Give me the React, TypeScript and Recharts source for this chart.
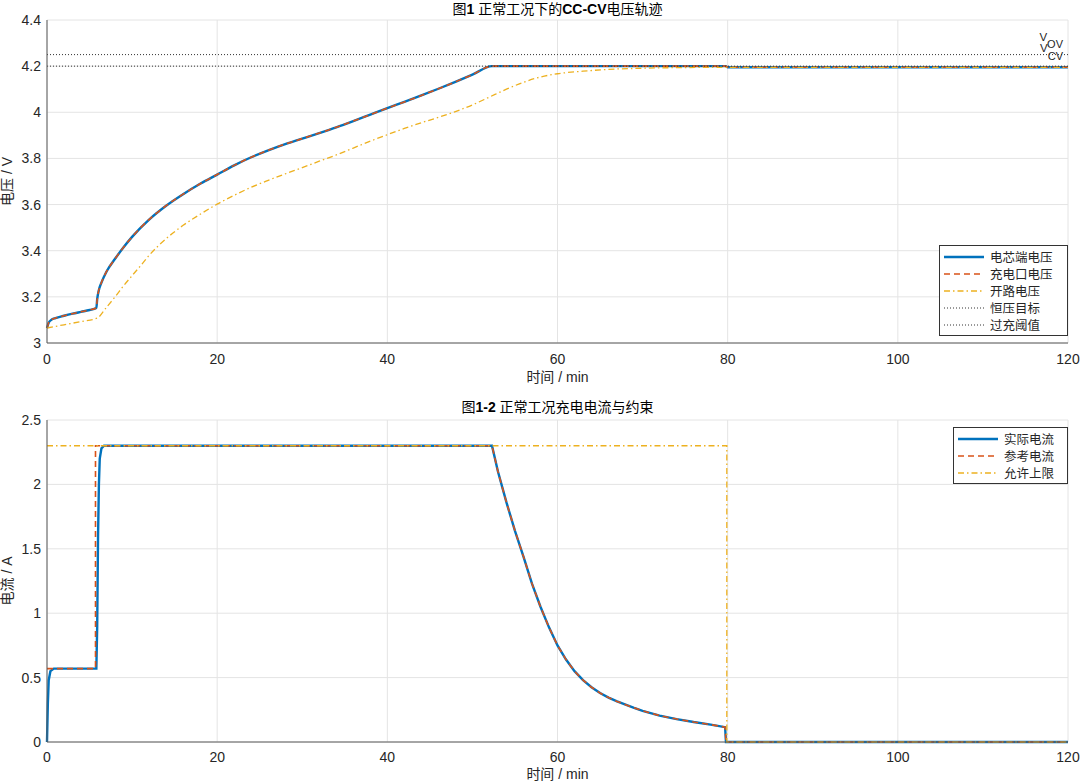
import { CartesianGrid, Label, Line, LineChart, ReferenceLine, XAxis, YAxis } from 'recharts'

const FONT = '"Liberation Sans", Arial, "Noto Sans CJK SC", sans-serif'

const xTicks = [0, 20, 40, 60, 80, 100, 120]
const vTicks = [3, 3.2, 3.4, 3.6, 3.8, 4, 4.2, 4.4]
const iTicks = [0, 0.5, 1, 1.5, 2, 2.5]

// voltage (top)
const vTime = [0, 0.2, 0.5, 1, 2, 3, 4, 5, 5.8, 5.9, 6.1, 6.4, 7, 8, 9, 10, 12, 14, 16, 18, 20, 22, 24, 26, 28, 30, 32, 34, 36, 38, 40, 42, 44, 46, 48, 50, 52.3, 60, 70, 79.8, 80, 90, 100, 110, 120]
const cellV = [3.065, 3.088, 3.1, 3.108, 3.118, 3.127, 3.135, 3.143, 3.152, 3.19, 3.23, 3.262, 3.31, 3.365, 3.415, 3.46, 3.535, 3.595, 3.645, 3.69, 3.73, 3.77, 3.805, 3.835, 3.862, 3.886, 3.91, 3.935, 3.962, 3.99, 4.018, 4.045, 4.073, 4.102, 4.132, 4.163, 4.2, 4.2, 4.2, 4.2, 4.195, 4.195, 4.195, 4.195, 4.195]
const portV = [3.065, 3.088, 3.1, 3.108, 3.118, 3.127, 3.135, 3.143, 3.152, 3.19, 3.23, 3.262, 3.31, 3.365, 3.415, 3.46, 3.535, 3.595, 3.645, 3.69, 3.73, 3.77, 3.805, 3.835, 3.862, 3.886, 3.91, 3.935, 3.962, 3.99, 4.018, 4.045, 4.073, 4.102, 4.132, 4.163, 4.2, 4.2, 4.2, 4.2, 4.195, 4.195, 4.195, 4.195, 4.195]
const ocvTime = [0, 2, 4, 5.9, 7, 8, 9, 10, 11, 12, 14, 16, 18, 20, 22, 24, 26, 28, 30, 32, 34, 36, 38, 40, 42, 44, 46, 48, 50, 52, 54, 56, 58, 60, 63, 66, 70, 75, 80, 120]
const ocvV = [3.065, 3.079, 3.093, 3.108, 3.155, 3.2, 3.248, 3.292, 3.335, 3.38, 3.452, 3.51, 3.558, 3.602, 3.64, 3.675, 3.705, 3.733, 3.76, 3.788, 3.815, 3.845, 3.875, 3.903, 3.93, 3.955, 3.978, 4.003, 4.032, 4.066, 4.1, 4.13, 4.153, 4.167, 4.178, 4.186, 4.191, 4.194, 4.195, 4.195]
const V_CV = 4.2
const V_OV = 4.25

// current (bottom)
const iTime = [0, 0.1, 0.2, 0.4, 0.8, 5.8, 5.9, 6.0, 6.1, 6.2, 6.4, 6.7, 52.3, 53, 54, 55, 56, 57, 58, 59, 60, 61, 62, 63, 64, 65, 66, 67, 68, 69, 70, 72, 74, 76, 78, 79.7, 79.8, 120]
const iMeas = [0, 0.3, 0.48, 0.55, 0.57, 0.57, 0.9, 1.6, 2.0, 2.2, 2.28, 2.3, 2.3, 2.1, 1.86, 1.64, 1.44, 1.23, 1.05, 0.89, 0.75, 0.64, 0.55, 0.48, 0.425, 0.38, 0.345, 0.315, 0.29, 0.265, 0.242, 0.205, 0.178, 0.155, 0.135, 0.115, 0, 0]
const iRefTime = [0, 5.7, 5.7, 52.3, 53, 54, 55, 56, 57, 58, 59, 60, 61, 62, 63, 64, 65, 66, 67, 68, 69, 70, 72, 74, 76, 78, 79.7, 79.8, 120]
const iRef = [0.57, 0.57, 2.3, 2.3, 2.1, 1.86, 1.64, 1.44, 1.23, 1.05, 0.89, 0.75, 0.64, 0.55, 0.48, 0.425, 0.38, 0.345, 0.315, 0.29, 0.265, 0.242, 0.205, 0.178, 0.155, 0.135, 0.115, 0, 0]
const limTime = [0, 79.9, 79.9, 120]
const limI = [2.3, 2.3, 0, 0]

const zip = (t: number[], v: number[]) => t.map((x, i) => ({ t: x, v: v[i] }))

const BLUE = '#0072BD'
const RED = '#D95319'
const YELLOW = '#EDB120'
const DOT = '#333'
const AXIS = '#5a5a5a'
const GRID = '#e4e4e4'
const TXT = '#262626'

interface LegendItem {
  name: string
  color: string
  width: number
  dash?: string
}

function LegendBox({ items, left, top, width, sample }: { items: LegendItem[]; left: number; top: number; width: number; sample: number }) {
  return (
    <div
      style={{
        position: 'absolute',
        left,
        top,
        width,
        border: '1px solid #333',
        background: '#fff',
        padding: '2px 0',
        font: `12.5px ${FONT}`,
        color: TXT,
        boxSizing: 'border-box',
      }}
    >
      {items.map((it) => (
        <div key={it.name} style={{ display: 'flex', alignItems: 'center', height: 17 }}>
          <svg width={sample + 8} height={10} style={{ flex: 'none' }}>
            <line x1={4} x2={sample + 4} y1={5} y2={5} stroke={it.color} strokeWidth={it.width} strokeDasharray={it.dash} />
          </svg>
          <span style={{ marginLeft: 2, whiteSpace: 'nowrap' }}>{it.name}</span>
        </div>
      ))}
    </div>
  )
}

function Title({ text, top }: { text: string; top: number }) {
  const parts = text.split(/([\x00-\x7F]+)/).filter((p) => p.length > 0)
  return (
    <div
      style={{
        position: 'absolute',
        left: 47,
        width: 1021,
        top,
        textAlign: 'center',
        font: `14px ${FONT}`,
        lineHeight: '16px',
        color: '#000',
        whiteSpace: 'pre',
      }}
    >
      {parts.map((p, i) => (
        <span key={i} style={{ fontWeight: /^[\x00-\x7F]+$/.test(p) && p.trim() ? 'bold' : 'normal' }}>
          {p}
        </span>
      ))}
    </div>
  )
}

function subLabel(main: string, sub: string) {
  return (props: any) => {
    const vb = props.viewBox || {}
    const x = (vb.x ?? 0) + (vb.width ?? 0) - 5
    const y = (vb.y ?? 0) - 14
    return (
      <text x={x} y={y} textAnchor="end" fill={TXT} style={{ font: `11.5px ${FONT}` }}>
        {main}
        <tspan dy={7.5} fontSize={11}>
          {sub}
        </tspan>
      </text>
    )
  }
}

const tickStyle = { fill: TXT, fontSize: 14, fontFamily: FONT }
const labelStyle = { fill: TXT, fontSize: 14, fontFamily: FONT }

export default function App() {
  const W = 1080
  const H = 392
  return (
    <div style={{ position: 'absolute', left: 0, top: 0, width: W, height: 784, background: '#fff', fontFamily: FONT }}>
      <div style={{ position: 'absolute', left: 0, top: 0 }}>
        <LineChart width={W} height={H} margin={{ top: 20, right: 12, bottom: 0, left: 0 }}>
          <CartesianGrid stroke={GRID} />
          <XAxis
            dataKey="t"
            type="number"
            domain={[0, 120]}
            ticks={xTicks}
            height={49}
            tickLine={false}
            tickSize={0}
            tickMargin={11}
            axisLine={{ stroke: AXIS }}
            tick={tickStyle}
          >
            <Label value="时间 / min" position="insideBottom" offset={10} style={labelStyle} />
          </XAxis>
          <XAxis xAxisId="top" orientation="top" type="number" domain={[0, 120]} height={0} tick={false} tickLine={false} axisLine={{ stroke: AXIS }} />
          <YAxis
            type="number"
            domain={[3, 4.4]}
            ticks={vTicks}
            width={47}
            tickLine={false}
            tickSize={0}
            tickMargin={6}
            axisLine={{ stroke: AXIS }}
            tick={tickStyle}
          >
            <Label value="电压 / V" position="center" angle={-90} dx={-16} style={labelStyle} />
          </YAxis>
          <YAxis yAxisId="right" orientation="right" type="number" domain={[3, 4.4]} width={0} tick={false} tickLine={false} axisLine={{ stroke: AXIS }} />
          <Line data={zip(vTime, cellV)} dataKey="v" type="monotoneX" stroke={BLUE} strokeWidth={2.4} dot={false} isAnimationActive={false} />
          <Line data={zip(vTime, portV)} dataKey="v" type="monotoneX" stroke={RED} strokeWidth={1.6} strokeDasharray="6 4" dot={false} isAnimationActive={false} />
          <Line data={zip(ocvTime, ocvV)} dataKey="v" type="monotoneX" stroke={YELLOW} strokeWidth={1.3} strokeDasharray="6 3 1.5 3" dot={false} isAnimationActive={false} />
          <ReferenceLine y={V_CV} stroke={DOT} strokeWidth={1} strokeDasharray="1 2" label={subLabel('V', 'CV')} />
          <ReferenceLine y={V_OV} stroke={DOT} strokeWidth={1} strokeDasharray="1 2" label={subLabel('V', 'OV')} />
        </LineChart>
        <Title text="图1 正常工况下的CC-CV电压轨迹" top={1} />
        <LegendBox
          left={939}
          top={245}
          width={129}
          sample={40}
          items={[
            { name: '电芯端电压', color: BLUE, width: 2.4 },
            { name: '充电口电压', color: RED, width: 1.6, dash: '6 4' },
            { name: '开路电压', color: YELLOW, width: 1.3, dash: '6 3 1.5 3' },
            { name: '恒压目标', color: DOT, width: 1, dash: '1 2' },
            { name: '过充阈值', color: DOT, width: 1, dash: '1 2' },
          ]}
        />
      </div>
      <div style={{ position: 'absolute', left: 0, top: H }}>
        <LineChart width={W} height={H} margin={{ top: 28, right: 12, bottom: 0, left: 0 }}>
          <CartesianGrid stroke={GRID} />
          <XAxis
            dataKey="t"
            type="number"
            domain={[0, 120]}
            ticks={xTicks}
            height={42}
            tickLine={false}
            tickSize={0}
            tickMargin={10}
            axisLine={{ stroke: AXIS }}
            tick={tickStyle}
          >
            <Label value="时间 / min" position="insideBottom" offset={5} style={labelStyle} />
          </XAxis>
          <XAxis xAxisId="top" orientation="top" type="number" domain={[0, 120]} height={0} tick={false} tickLine={false} axisLine={{ stroke: AXIS }} />
          <YAxis
            type="number"
            domain={[0, 2.5]}
            ticks={iTicks}
            width={47}
            tickLine={false}
            tickSize={0}
            tickMargin={6}
            axisLine={{ stroke: AXIS }}
            tick={tickStyle}
          >
            <Label value="电流 / A" position="center" angle={-90} dx={-16} style={labelStyle} />
          </YAxis>
          <YAxis yAxisId="right" orientation="right" type="number" domain={[0, 2.5]} width={0} tick={false} tickLine={false} axisLine={{ stroke: AXIS }} />
          <Line data={zip(iTime, iMeas)} dataKey="v" type="linear" stroke={BLUE} strokeWidth={2.4} dot={false} isAnimationActive={false} />
          <Line data={zip(iRefTime, iRef)} dataKey="v" type="linear" stroke={RED} strokeWidth={1.6} strokeDasharray="6 4" dot={false} isAnimationActive={false} />
          <Line data={zip(limTime, limI)} dataKey="v" type="linear" stroke={YELLOW} strokeWidth={1.3} strokeDasharray="6 3 1.5 3" dot={false} isAnimationActive={false} />
        </LineChart>
        <Title text="图1-2 正常工况充电电流与约束" top={7} />
        <LegendBox
          left={953}
          top={35}
          width={115}
          sample={40}
          items={[
            { name: '实际电流', color: BLUE, width: 2.4 },
            { name: '参考电流', color: RED, width: 1.6, dash: '6 4' },
            { name: '允许上限', color: YELLOW, width: 1.3, dash: '6 3 1.5 3' },
          ]}
        />
      </div>
    </div>
  )
}
